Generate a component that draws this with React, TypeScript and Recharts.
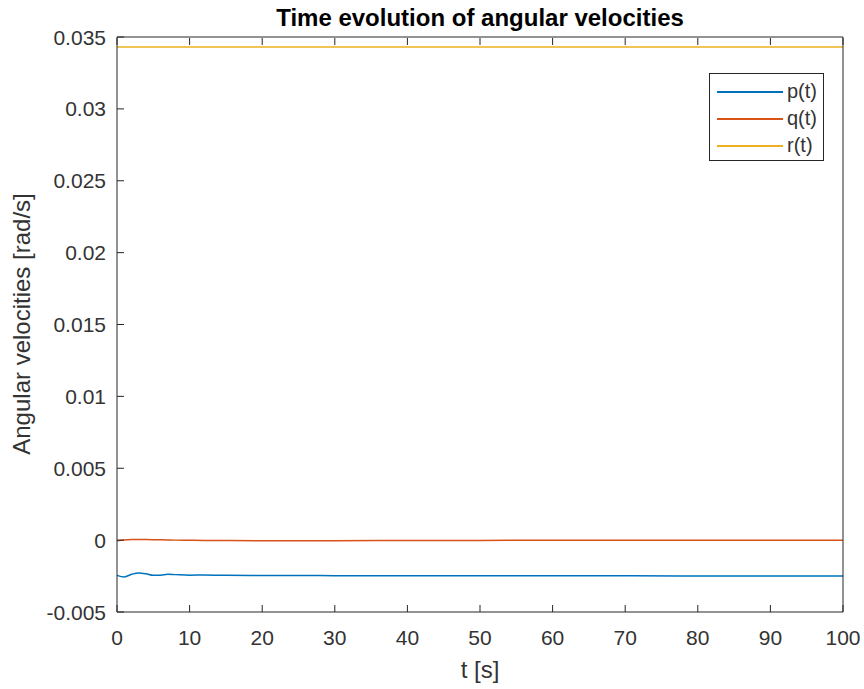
import React from 'react';
import { LineChart, Line, XAxis, YAxis, Label } from 'recharts';

// sample times [s]
const time = [0, 1, 2, 3, 4, 5, 6, 7, 8, 10, 12, 15, 20, 30, 40, 50, 60, 70, 80, 90, 100];
// angular velocities [rad/s]
const pValues = [
  -0.00245, -0.00256, -0.00238, -0.00228, -0.00234, -0.00245, -0.00244, -0.00238, -0.0024,
  -0.00244, -0.00242, -0.00245, -0.00246, -0.00247, -0.00248, -0.00248, -0.00248, -0.00248,
  -0.00249, -0.0025, -0.0025,
];
const qValues = [
  -0.00005, 0.00001, 0.00004, 0.00005, 0.00004, 0.00003, 0.00002, 0.00001, 0.0, -0.00001,
  -0.00002, -0.00003, -0.00004, -0.00004, -0.00003, -0.00002, 0.0, 0.0, 0.0, -0.00001, -0.00001,
];
const rValues = [
  0.0343, 0.0343, 0.0343, 0.0343, 0.0343, 0.0343, 0.0343, 0.0343, 0.0343, 0.0343, 0.0343, 0.0343,
  0.0343, 0.0343, 0.0343, 0.0343, 0.0343, 0.0343, 0.0343, 0.0343, 0.0343,
];

const xTicks = [0, 10, 20, 30, 40, 50, 60, 70, 80, 90, 100];
const yTicks = [-0.005, 0, 0.005, 0.01, 0.015, 0.02, 0.025, 0.03, 0.035];

const series = [
  { key: 'p', name: 'p(t)', color: '#0072BD' },
  { key: 'q', name: 'q(t)', color: '#D95319' },
  { key: 'r', name: 'r(t)', color: '#EDB120' },
];

const data = time.map((t, i) => ({ t, p: pValues[i], q: qValues[i], r: rValues[i] }));

const AXIS = '#262626';
const TEXT = '#333';
const FONT = 'Arial, "Liberation Sans", Helvetica, sans-serif';
const TICK_LEN = 7;
const TICK_FONT = 21;

const BottomTick = ({ x, y, payload }: any) => (
  <g>
    <line x1={x} x2={x} y1={y} y2={y - TICK_LEN} stroke={AXIS} />
    <text x={x} y={y + 33} textAnchor="middle" fontSize={TICK_FONT} fill={TEXT} fontFamily={FONT}>
      {payload.value}
    </text>
  </g>
);

const TopTick = ({ x, y }: any) => <line x1={x} x2={x} y1={y + 1} y2={y + 1 + TICK_LEN} stroke={AXIS} />;

const LeftTick = ({ x, y, payload }: any) => (
  <g>
    <line x1={x} x2={x + TICK_LEN} y1={y} y2={y} stroke={AXIS} />
    <text x={x - 11} y={y + 7.5} textAnchor="end" fontSize={TICK_FONT} fill={TEXT} fontFamily={FONT}>
      {String(payload.value)}
    </text>
  </g>
);

const RightTick = ({ x, y }: any) => <line x1={x - 1} x2={x - 1 - TICK_LEN} y1={y} y2={y} stroke={AXIS} />;

const LegendBox = () => (
  <div
    style={{
      position: 'absolute',
      left: 709,
      top: 73,
      width: 115,
      height: 88,
      border: '1px solid #262626',
      background: '#fff',
      boxSizing: 'border-box',
      paddingTop: 4,
      fontFamily: FONT,
      fontSize: 20,
      color: TEXT,
    }}
  >
    {series.map((s) => (
      <div key={s.key} style={{ display: 'flex', alignItems: 'center', height: 27 }}>
        <div style={{ marginLeft: 7, width: 66, height: 2, background: s.color }} />
        <span style={{ marginLeft: 4 }}>{s.name}</span>
      </div>
    ))}
  </div>
);

export default function App() {
  return (
    <div style={{ position: 'absolute', left: 0, top: 0, width: 864, height: 689, background: '#fff' }}>
      <LineChart width={864} height={689} data={data} margin={{ top: 36, right: 20, left: 0, bottom: 0 }}>
        <XAxis
          dataKey="t"
          type="number"
          domain={[0, 100]}
          ticks={xTicks}
          tickSize={0}
          tickMargin={0}
          tick={<BottomTick />}
          axisLine={{ stroke: AXIS }}
          height={77}
          interval={0}
        >
          <Label
            content={() => (
              <text x={480} y={678} textAnchor="middle" fontSize={24} fill={TEXT} fontFamily={FONT}>
                t [s]
              </text>
            )}
          />
        </XAxis>
        <XAxis
          xAxisId="top"
          orientation="top"
          dataKey="t"
          type="number"
          domain={[0, 100]}
          ticks={xTicks}
          tickSize={0}
          tickMargin={0}
          tick={<TopTick />}
          axisLine={{ stroke: AXIS }}
          height={1}
          interval={0}
        >
          <Label
            content={() => (
              <text x={480} y={26} textAnchor="middle" fontSize={24} fontWeight="bold" fill="#000" fontFamily={FONT}>
                Time evolution of angular velocities
              </text>
            )}
          />
        </XAxis>
        <YAxis
          type="number"
          domain={[-0.005, 0.035]}
          ticks={yTicks}
          tickSize={0}
          tickMargin={0}
          tick={<LeftTick />}
          axisLine={{ stroke: AXIS }}
          width={117}
          interval={0}
        >
          <Label
            content={() => (
              <text
                x={30}
                y={324}
                transform="rotate(-90 30 324)"
                textAnchor="middle"
                fontSize={24}
                fill={TEXT}
                fontFamily={FONT}
              >
                Angular velocities [rad/s]
              </text>
            )}
          />
        </YAxis>
        <YAxis
          yAxisId="right"
          orientation="right"
          type="number"
          domain={[-0.005, 0.035]}
          ticks={yTicks}
          tickSize={0}
          tickMargin={0}
          tick={<RightTick />}
          axisLine={{ stroke: AXIS }}
          width={1}
          interval={0}
        />
        {series.map((s) => (
          <Line
            key={s.key}
            type="monotone"
            dataKey={s.key}
            name={s.name}
            stroke={s.color}
            strokeWidth={1.5}
            dot={false}
            isAnimationActive={false}
          />
        ))}
      </LineChart>
      <LegendBox />
    </div>
  );
}
